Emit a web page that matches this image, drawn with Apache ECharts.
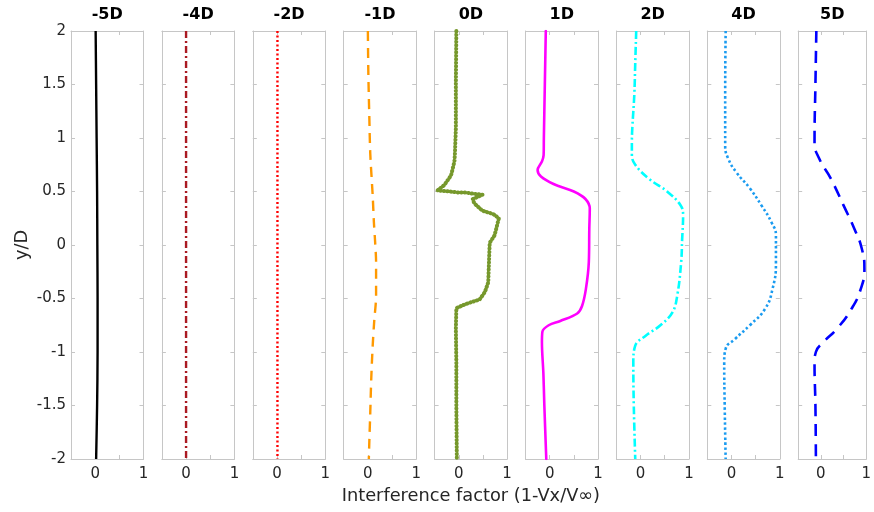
<!DOCTYPE html>
<html>
<head>
<meta charset="utf-8">
<script src="https://cdn.jsdelivr.net/npm/echarts@6/dist/echarts.min.js"></script>
<style>
  html, body { margin: 0; padding: 0; background: #ffffff; }
  #chart { width: 874px; height: 512px; }
</style>
</head>
<body>
<div id="chart"></div>
<script>
// Downstream stations (in rotor diameters) and their velocity-deficit profiles.
const stations = ['-5D', '-4D', '-2D', '-1D', '0D', '1D', '2D', '4D', '5D'];

// Each profile is a list of [interference factor, y/D] pairs.
const profileM5 = [[0.01, 2], [0.02, 1.5], [0.03, 1], [0.04, 0.5], [0.045, 0], [0.05, -0.5], [0.05, -1], [0.04, -1.5], [0.02, -2]];
const profileM4 = [[0.0, 2], [0.0, 1], [0.0, 0], [0.0, -1], [0.0, -2]];
const profileM2 = [[0.01, 2], [0.01, 1], [0.01, 0], [0.01, -1], [0.01, -2]];
const profileM1 = [[0.0, 2], [0.01, 1.6], [0.03, 1.2], [0.05, 0.85], [0.1, 0.46], [0.125, 0.21], [0.15, 0.03], [0.17, -0.16], [0.17, -0.47], [0.13, -0.72], [0.1, -0.94], [0.07, -1.25], [0.05, -1.56], [0.03, -1.84], [0.02, -2]];
const profile0 = [[-0.05, 2], [-0.06, 1.5], [-0.06, 1.09], [-0.08, 0.85], [-0.09, 0.78], [-0.16, 0.65], [-0.3, 0.56], [-0.44, 0.51], [-0.19, 0.5], [0.01, 0.49], [0.15, 0.49], [0.29, 0.48], [0.49, 0.47], [0.5, 0.46], [0.29, 0.43], [0.32, 0.39], [0.49, 0.32], [0.71, 0.29], [0.83, 0.25], [0.74, 0.09], [0.64, 0.02], [0.62, -0.22], [0.61, -0.35], [0.54, -0.44], [0.43, -0.51], [0.22, -0.54], [0.1, -0.56], [-0.05, -0.59], [-0.06, -0.78], [-0.05, -1.1], [-0.05, -1.5], [-0.04, -2]];
const profileP1 = [[-0.08, 2], [-0.1, 1.5], [-0.12, 1.0], [-0.125, 0.84], [-0.16, 0.78], [-0.25, 0.7], [-0.18, 0.64], [0.08, 0.57], [0.5, 0.5], [0.74, 0.43], [0.83, 0.34], [0.82, 0.15], [0.81, -0.16], [0.75, -0.41], [0.67, -0.57], [0.57, -0.64], [0.22, -0.71], [-0.02, -0.75], [-0.15, -0.81], [-0.16, -0.91], [-0.13, -1.2], [-0.11, -1.5], [-0.07, -2]];
const profileP2 = [[-0.09, 2], [-0.11, 1.7], [-0.13, 1.4], [-0.17, 1.1], [-0.18, 0.96], [-0.18, 0.84], [-0.11, 0.75], [0.17, 0.62], [0.55, 0.5], [0.83, 0.37], [0.88, 0.28], [0.86, 0.05], [0.84, -0.16], [0.76, -0.47], [0.66, -0.63], [0.41, -0.75], [0.1, -0.85], [-0.11, -0.94], [-0.15, -1.1], [-0.14, -1.5], [-0.11, -2]];
const profileP4 = [[-0.12, 2], [-0.13, 1.4], [-0.13, 0.93], [-0.07, 0.81], [0.1, 0.68], [0.38, 0.53], [0.62, 0.37], [0.83, 0.21], [0.92, 0.09], [0.92, -0.16], [0.85, -0.41], [0.69, -0.6], [0.38, -0.75], [0.07, -0.88], [-0.12, -0.97], [-0.15, -1.1], [-0.14, -1.5], [-0.12, -2]];
const profileP5 = [[-0.1, 2], [-0.12, 1.5], [-0.14, 0.96], [-0.04, 0.81], [0.22, 0.62], [0.5, 0.37], [0.74, 0.15], [0.9, -0.03], [0.96, -0.22], [0.88, -0.41], [0.67, -0.6], [0.36, -0.78], [0.05, -0.91], [-0.11, -1.0], [-0.14, -1.1], [-0.12, -1.5], [-0.11, -2]];

const xLabelsShown = ['0', '1'];
const profiles = [profileM5, profileM4, profileM2, profileM1, profile0, profileP1, profileP2, profileP4, profileP5];

// Line appearance per station
const lineColors = ['#000000', '#AA1A22', '#FF0000', '#FF9900', '#76982C', '#FF00FF', '#00FFFF', '#1A9BF0', '#0000FF'];
const lineTypes = ['solid', [7, 3, 2, 3], [2, 2.5], [10, 7], [0.5, 3], 'solid', [8, 3, 2, 3], [2.5, 2.5], [12, 8]];
const lineWidths = [2.4, 2.4, 2.4, 2.4, 4, 2.6, 2.6, 2.6, 2.6];
const lineCaps = ['butt', 'butt', 'butt', 'butt', 'round', 'round', 'butt', 'butt', 'butt'];
const smoothing = [0.3, 0, 0, 0.3, 0, 0.35, 0.4, 0.5, 0.5];

const frameColor = '#c6c6c6';
const textColor = '#262626';
const fontFamily = '"DejaVu Sans", Verdana, sans-serif';

const panelLeft = 71, panelStep = 90.9, panelWidth = 72.5, panelTop = 31, panelHeight = 428;

const grids = [], xAxes = [], yAxes = [], series = [];

stations.forEach((name, i) => {
  grids.push({ left: panelLeft + panelStep * i, top: panelTop, width: panelWidth, height: panelHeight });

  const xCommon = {
    type: 'value', gridIndex: i, min: -0.5, max: 1, interval: 0.5,
    axisLine: { show: true, onZero: false, lineStyle: { color: frameColor, width: 1 } },
    axisTick: { show: true, inside: true, length: 4, lineStyle: { color: frameColor } },
    splitLine: { show: false }
  };
  xAxes.push(Object.assign({}, xCommon, {
    position: 'bottom',
    axisLabel: {
      show: true, margin: 8, color: textColor, fontSize: 15, fontFamily,
      formatter: v => (xLabelsShown.indexOf(String(v)) >= 0 ? String(v) : '')
    },
    name: i === 4 ? 'Interference factor (1-Vx/V\u221E)' : '',
    nameLocation: 'middle', nameGap: 27,
    nameTextStyle: { color: textColor, fontSize: 17.8, fontFamily }
  }));
  xAxes.push(Object.assign({}, xCommon, {
    position: 'top',
    axisLabel: { show: false },
    name: name, nameLocation: 'middle', nameGap: 8,
    nameTextStyle: { color: '#000000', fontSize: 16, fontWeight: 'bold', fontFamily }
  }));

  const yCommon = {
    type: 'value', gridIndex: i, min: -2, max: 2, interval: 0.5,
    axisLine: { show: true, onZero: false, lineStyle: { color: frameColor, width: 1 } },
    axisTick: { show: true, inside: true, length: 4, lineStyle: { color: frameColor } },
    splitLine: { show: false }
  };
  yAxes.push(Object.assign({}, yCommon, {
    position: 'left',
    axisLabel: { show: i === 0, margin: 5, color: textColor, fontSize: 15, fontFamily },
    name: i === 0 ? 'y/D' : '', nameLocation: 'middle', nameGap: 40, nameRotate: 90,
    nameTextStyle: { color: textColor, fontSize: 17.8, fontFamily }
  }));
  yAxes.push(Object.assign({}, yCommon, { position: 'right', axisLabel: { show: false } }));

  series.push({
    type: 'line', name: name,
    xAxisIndex: 2 * i, yAxisIndex: 2 * i,
    data: profiles[i],
    showSymbol: false, symbol: 'none',
    smooth: smoothing[i],
    lineStyle: { color: lineColors[i], width: lineWidths[i], type: lineTypes[i], cap: lineCaps[i], join: 'round' },
    animation: false, silent: true
  });
});

const chart = echarts.init(document.getElementById('chart'), null, { renderer: 'canvas' });
chart.setOption({
  backgroundColor: '#ffffff',
  animation: false,
  grid: grids,
  xAxis: xAxes,
  yAxis: yAxes,
  series: series
});
</script>
</body>
</html>
